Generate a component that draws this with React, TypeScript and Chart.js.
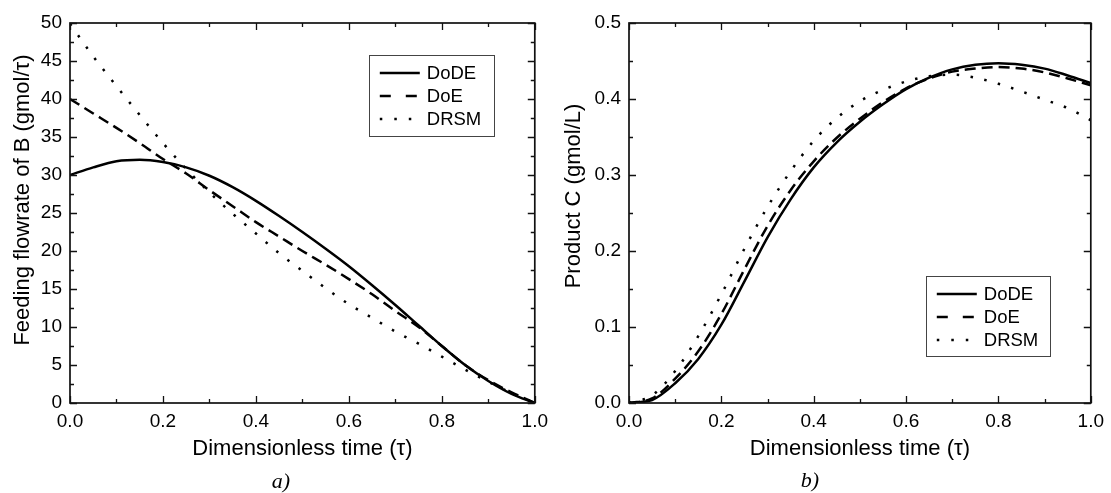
import React, { useEffect, useRef } from "react";
import { Chart, registerables } from "chart.js";

Chart.register(...registerables);

// ---------- data ----------
const tau = [0, 0.05, 0.1, 0.15, 0.2, 0.25, 0.3, 0.35, 0.4, 0.45, 0.5, 0.55, 0.6, 0.65, 0.7, 0.75, 0.8, 0.85, 0.9, 0.95, 1.0];

const feedDoDE = [30.0, 31.0, 31.8, 32.0, 31.7, 31.0, 29.9, 28.4, 26.6, 24.6, 22.5, 20.3, 18.0, 15.5, 12.9, 10.2, 7.5, 5.0, 2.9, 1.2, 0];
const feedDoE = [40.0, 38.1, 36.2, 34.2, 32.1, 30.2, 28.0, 25.9, 23.8, 21.9, 20.0, 18.2, 16.3, 14.3, 12.1, 10.0, 7.5, 5.0, 3.0, 1.4, 0];
const feedDRSM = [49.9, 45.6, 41.7, 37.9, 34.2, 30.8, 27.7, 24.9, 22.3, 19.7, 17.4, 15.1, 13.0, 11.2, 9.4, 7.8, 6.1, 4.4, 2.8, 1.3, 0];

const prodDoDE = [0, 0.004, 0.026, 0.058, 0.103, 0.16, 0.218, 0.268, 0.31, 0.343, 0.37, 0.393, 0.413, 0.428, 0.439, 0.445, 0.447, 0.445, 0.44, 0.431, 0.421];
const prodDoE = [0, 0.006, 0.032, 0.068, 0.117, 0.176, 0.233, 0.28, 0.318, 0.349, 0.374, 0.396, 0.414, 0.427, 0.436, 0.44, 0.442, 0.44, 0.435, 0.427, 0.418];
const prodDRSM = [0, 0.01, 0.042, 0.088, 0.143, 0.203, 0.258, 0.305, 0.345, 0.375, 0.397, 0.412, 0.423, 0.43, 0.432, 0.428, 0.42, 0.41, 0.399, 0.388, 0.372];

const seriesNames = ["DoDE", "DoE", "DRSM"];

const xTicks = [0, 0.2, 0.4, 0.6, 0.8, 1.0];
const xMinorTicks = [0.1, 0.3, 0.5, 0.7, 0.9];
const feedTicks = [0, 5, 10, 15, 20, 25, 30, 35, 40, 45, 50];
const feedMinorTicks = [2.5, 7.5, 12.5, 17.5, 22.5, 27.5, 32.5, 37.5, 42.5, 47.5];
const prodTicks = [0, 0.1, 0.2, 0.3, 0.4, 0.5];
const prodMinorTicks = [0.05, 0.15, 0.25, 0.35, 0.45];

const xTitle = "Dimensionless time (\u03C4)";
const feedTitle = "Feeding flowrate of B (gmol/\u03C4)";
const prodTitle = "Product C (gmol/L)";

// ---------- styles ----------
const FONT = "'Liberation Sans', Arial, sans-serif";
const lineDashes = [[], [11, 6], [2.5, 11.5]];
const legendDashes = [[], [11, 15], [2.5, 12]];
const lineWidths = [2.5, 2.5, 2.5];

const decorPlugin = {
  id: "decor",
  afterDraw(chart: any, _args: any, opts: any) {
    const { ctx, chartArea: a, scales } = chart;
    const xs = scales.x;
    const ys = scales.y;
    ctx.save();

    // frame
    ctx.strokeStyle = "#111";
    ctx.lineWidth = 1.7;
    ctx.setLineDash([]);
    ctx.strokeRect(a.left, a.top, a.right - a.left, a.bottom - a.top);

    // inward ticks on all four sides
    ctx.lineWidth = 1.3;
    const drawX = (vals: number[], len: number) => {
      vals.forEach((v) => {
        const p = Math.round(xs.getPixelForValue(v)) + 0.5;
        ctx.beginPath();
        ctx.moveTo(p, a.bottom);
        ctx.lineTo(p, a.bottom - len);
        ctx.moveTo(p, a.top);
        ctx.lineTo(p, a.top + len);
        ctx.stroke();
      });
    };
    const drawY = (vals: number[], len: number) => {
      vals.forEach((v) => {
        const p = Math.round(ys.getPixelForValue(v)) + 0.5;
        ctx.beginPath();
        ctx.moveTo(a.left, p);
        ctx.lineTo(a.left + len, p);
        ctx.moveTo(a.right, p);
        ctx.lineTo(a.right - len, p);
        ctx.stroke();
      });
    };
    drawX(opts.xMajor, 7);
    drawX(opts.xMinor, 4);
    drawY(opts.yMajor, 7);
    drawY(opts.yMinor, 4);

    // axis titles
    ctx.fillStyle = "#000";
    ctx.font = `${opts.titleSize}px ${FONT}`;
    ctx.textAlign = "center";
    ctx.textBaseline = "middle";
    ctx.fillText(opts.xTitle, (a.left + a.right) / 2 + opts.xTitleDx, opts.xTitleY);
    ctx.save();
    ctx.translate(opts.yTitleX, opts.yTitleY);
    ctx.rotate(-Math.PI / 2);
    ctx.fillText(opts.yTitle, 0, 0);
    ctx.restore();

    // legend box
    const lg = opts.legend;
    const bw = lg.width;
    const bh = lg.height;
    const bx = a.right - lg.right - bw;
    const by = lg.top != null ? a.top + lg.top : a.bottom - lg.bottom - bh;
    ctx.fillStyle = "#fff";
    ctx.fillRect(bx, by, bw, bh);
    ctx.strokeStyle = "#444";
    ctx.lineWidth = 1;
    ctx.strokeRect(Math.round(bx) + 0.5, Math.round(by) + 0.5, bw, bh);
    ctx.font = `18.5px ${FONT}`;
    ctx.textAlign = "left";
    ctx.textBaseline = "middle";
    chart.data.datasets.forEach((ds: any, i: number) => {
      const cy = by + lg.rows[i];
      ctx.strokeStyle = "#000";
      ctx.lineWidth = ds.borderWidth;
      ctx.lineCap = "butt";
      ctx.setLineDash(legendDashes[i]);
      ctx.beginPath();
      ctx.moveTo(bx + 11, cy);
      ctx.lineTo(bx + 51, cy);
      ctx.stroke();
      ctx.setLineDash([]);
      ctx.fillStyle = "#000";
      ctx.fillText(ds.label, bx + 58, cy + 1);
    });
    ctx.restore();
  },
};

function makeDatasets(series: number[][]) {
  return series.map((vals, i) => ({
    label: seriesNames[i],
    data: tau.map((t, k) => ({ x: t, y: vals[k] })),
    borderColor: "#000",
    backgroundColor: "#000",
    borderWidth: lineWidths[i],
    borderDash: lineDashes[i],
    borderCapStyle: "butt",
    pointRadius: 0,
    fill: false,
    cubicInterpolationMode: "monotone",
  }));
}

function makeConfig(p: any) {
  return {
    type: "line",
    data: { datasets: makeDatasets(p.series) },
    plugins: [decorPlugin],
    options: {
      responsive: false,
      animation: false,
      events: [],
      layout: { padding: { left: 0, right: p.padRight, top: 23, bottom: 0 } },
      scales: {
        x: {
          type: "linear",
          min: 0,
          max: 1,
          grid: { display: false, drawTicks: false },
          border: { display: false },
          afterFit: (s: any) => {
            s.height = 90;
          },
          afterBuildTicks: (s: any) => {
            s.ticks = xTicks.map((v) => ({ value: v }));
          },
          ticks: {
            autoSkip: false,
            maxRotation: 0,
            padding: 7,
            color: "#000",
            font: { family: FONT, size: 19 },
            callback: (v: any) => Number(v).toFixed(1),
          },
        },
        y: {
          type: "linear",
          min: p.yMin,
          max: p.yMax,
          grid: { display: false, drawTicks: false },
          border: { display: false },
          afterFit: (s: any) => {
            s.width = p.yWidth;
          },
          afterBuildTicks: (s: any) => {
            s.ticks = p.yTicks.map((v: number) => ({ value: v }));
          },
          ticks: {
            autoSkip: false,
            padding: 8,
            color: "#000",
            font: { family: FONT, size: 19 },
            callback: p.yFmt,
          },
        },
      },
      plugins: {
        legend: { display: false },
        tooltip: { enabled: false },
        title: { display: false },
        decor: {
          xMajor: xTicks,
          xMinor: xMinorTicks,
          yMajor: p.yTicks,
          yMinor: p.yMinor,
          xTitle: xTitle,
          xTitleY: 449,
          xTitleDx: 0,
          yTitle: p.yTitle,
          yTitleX: p.yTitleX,
          yTitleY: p.yTitleY,
          titleSize: 22,
          legend: p.legend,
        },
      },
    },
  };
}

export default function App() {
  const leftRef = useRef<HTMLCanvasElement>(null);
  const rightRef = useRef<HTMLCanvasElement>(null);

  useEffect(() => {
    const left = new Chart(
      leftRef.current as HTMLCanvasElement,
      makeConfig({
        series: [feedDoDE, feedDoE, feedDRSM],
        padRight: 17,
        yMin: 0,
        yMax: 50,
        yWidth: 70,
        yTicks: feedTicks,
        yMinor: feedMinorTicks,
        yFmt: (v: any) => String(Math.round(Number(v))),
        yTitle: feedTitle,
        yTitleX: 23,
        yTitleY: 200,
        legend: { width: 125, height: 81, right: 41, top: 32, rows: [18, 41, 64] },
      }) as any
    );
    const right = new Chart(
      rightRef.current as HTMLCanvasElement,
      makeConfig({
        series: [prodDoDE, prodDoE, prodDRSM],
        padRight: 15,
        yMin: 0,
        yMax: 0.5,
        yWidth: 74,
        yTicks: prodTicks,
        yMinor: prodMinorTicks,
        yFmt: (v: any) => Number(v).toFixed(1),
        yTitle: prodTitle,
        yTitleX: 19,
        yTitleY: 196,
        legend: { width: 124, height: 80, right: 41, bottom: 47, rows: [18, 41, 64] },
      }) as any
    );
    return () => {
      left.destroy();
      right.destroy();
    };
  }, []);

  const capStyle: React.CSSProperties = {
    position: "absolute",
    fontFamily: "'Liberation Serif', 'Times New Roman', serif",
    fontStyle: "italic",
    fontSize: 22,
    lineHeight: "24px",
    color: "#000",
    transform: "translate(-50%, -50%)",
    whiteSpace: "nowrap",
  };

  return (
    <div style={{ position: "fixed", left: 0, top: 0, width: 1111, height: 493, background: "#fff" }}>
      <canvas ref={leftRef} width={555} height={493} style={{ position: "absolute", left: 0, top: 0 }} />
      <canvas ref={rightRef} width={556} height={493} style={{ position: "absolute", left: 555, top: 0 }} />
      <div style={{ ...capStyle, left: 281, top: 481 }}>a)</div>
      <div style={{ ...capStyle, left: 810, top: 480 }}>b)</div>
    </div>
  );
}
